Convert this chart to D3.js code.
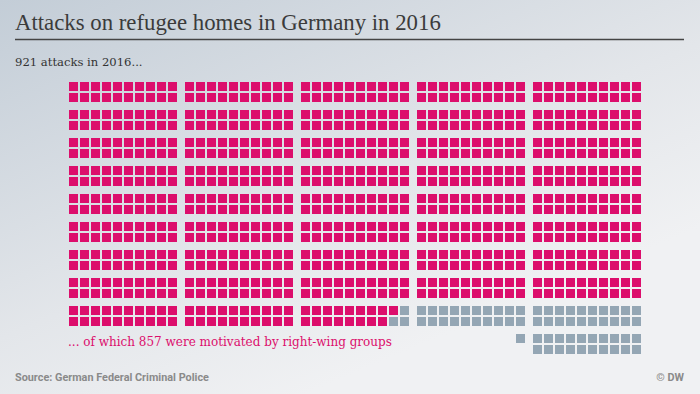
<!DOCTYPE html>
<html>
<head>
<meta charset="utf-8">
<script src="https://cdn.jsdelivr.net/npm/d3@7"></script>
<style>
  html, body { margin: 0; padding: 0; }
  body { width: 700px; height: 394px; overflow: hidden; }
</style>
</head>
<body>
<script>
// data
var totalAttacks = 921;
var rightWing = 857;
var perBlock = 20;          // 10 columns x 2 rows
var blocksPerBand = 5;
var fullBands = 9;

var titleText = "Attacks on refugee homes in Germany in 2016";
var subText = "921 attacks in 2016...";
var captionText = "... of which 857 were motivated by right-wing groups";
var sourceText = "Source: German Federal Criminal Police";
var creditText = "\u00a9 DW";

var width = 700, height = 394;
var pink = "#dc0e6c", grey = "#94a6b4";

var svg = d3.select("body").append("svg")
  .attr("width", width).attr("height", height);

var defs = svg.append("defs");
var grad = defs.append("linearGradient").attr("id", "bg")
  .attr("x1", "0").attr("y1", "0").attr("x2", "0.75").attr("y2", "1");
grad.append("stop").attr("offset", "0").attr("stop-color", "#c3cdd7");
grad.append("stop").attr("offset", "0.55").attr("stop-color", "#e3e6ea");
grad.append("stop").attr("offset", "0.85").attr("stop-color", "#f0f1f3");
svg.append("rect").attr("width", width).attr("height", height).attr("fill", "url(#bg)");

// fit a text to a target width by adjusting font size
function fit(sel, w) {
  var fs = +sel.attr("font-size");
  var len = sel.node().getComputedTextLength();
  sel.attr("font-size", (fs * w / len).toFixed(2));
}

// header
var title = svg.append("text").attr("x", 15).attr("y", 30)
  .attr("font-family", "Liberation Serif").attr("font-size", 22)
  .attr("fill", "#3b3b3b").text(titleText);
fit(title, 426);
svg.append("line").attr("x1", 15).attr("x2", 684).attr("y1", 39.5).attr("y2", 39.5)
  .attr("stroke", "#444").attr("stroke-width", 1.5);
svg.append("text").attr("x", 15).attr("y", 66)
  .attr("font-family", "DejaVu Serif").attr("font-size", 11.6)
  .attr("fill", "#333").text(subText);

// waffle
var units = d3.range(totalAttacks);
var lastStart = fullBands * blocksPerBand * perBlock;

function place(i) {
  var band, block, k;
  if (i < lastStart) {
    var b = Math.floor(i / perBlock);
    band = Math.floor(b / blocksPerBand);
    block = b % blocksPerBand;
    k = i % perBlock;
    return { band: band, block: block, col: Math.floor(k / 2), row: k % 2 };
  }
  // remainder is right-aligned in an extra band
  var j = totalAttacks - 1 - i;
  block = blocksPerBand - 1 - Math.floor(j / perBlock);
  k = j % perBlock;
  return { band: fullBands, block: block, col: 9 - Math.floor(k / 2), row: k % 2 };
}

var blockX = d3.scaleBand().domain(d3.range(blocksPerBand)).range([69, 641]).paddingInner(8 / 116);
var colX = d3.scaleLinear().domain([0, 1]).range([0, 11]);
var bandY = d3.scaleLinear().domain([0, 1]).range([82, 110]);
var rowY = d3.scaleLinear().domain([0, 1]).range([0, 11]);

svg.append("g").selectAll("rect").data(units.map(function (i) { return { i: i, p: place(i) }; })).join("rect")
  .attr("x", function (d) { return Math.round(blockX(d.p.block) + colX(d.p.col)); })
  .attr("y", function (d) { return bandY(d.p.band) + rowY(d.p.row); })
  .attr("width", 9).attr("height", 9)
  .attr("fill", function (d) { return d.i < rightWing ? pink : grey; });

svg.append("text").attr("x", 68).attr("y", 346)
  .attr("font-family", "DejaVu Serif").attr("font-size", 12)
  .attr("fill", pink).text(captionText);

// footer
var src = svg.append("text").attr("x", 15).attr("y", 381)
  .attr("font-family", "Roboto").attr("font-weight", "bold").attr("font-size", 10)
  .attr("fill", "#8a8a8a").text(sourceText);
fit(src, 194);
svg.append("text").attr("x", 684).attr("y", 381).attr("text-anchor", "end")
  .attr("font-family", "Roboto").attr("font-weight", "bold").attr("font-size", src.attr("font-size"))
  .attr("fill", "#8a8a8a").text(creditText);
</script>
</body>
</html>
